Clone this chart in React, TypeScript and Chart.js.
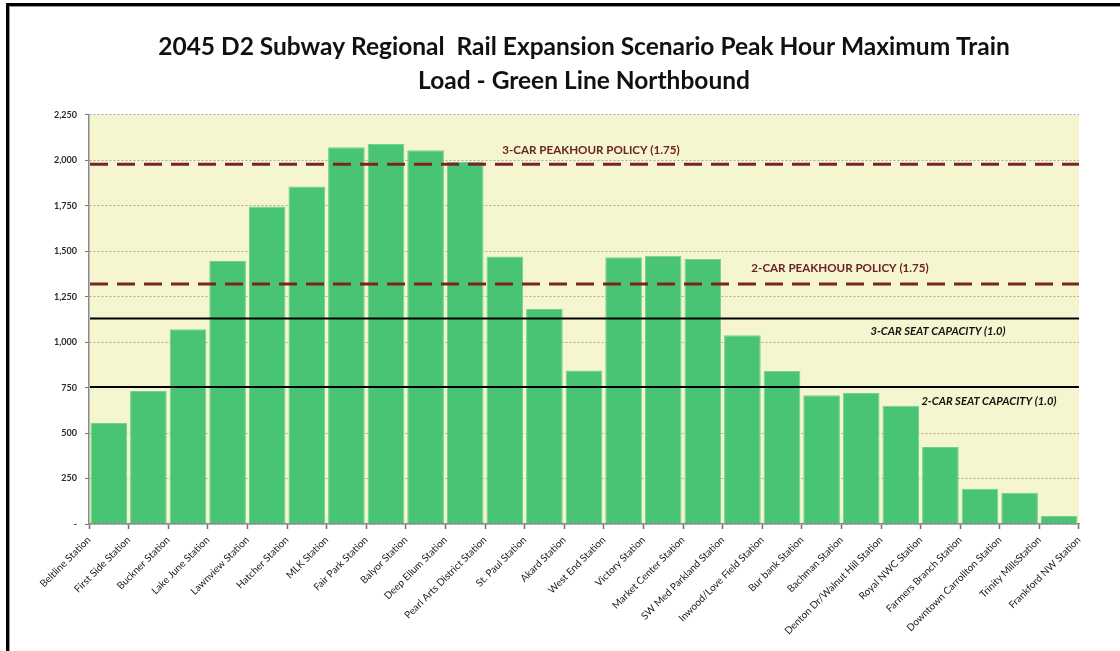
import React, { useEffect, useRef } from 'react';
import { Chart, registerables } from 'chart.js';

Chart.register(...registerables);

// ---------- data ----------
const TITLE_LINES = [
  '2045 D2 Subway Regional  Rail Expansion Scenario Peak Hour Maximum Train',
  'Load - Green Line Northbound',
];

const STATIONS = [
  'Beltline Station',
  'First Side Station',
  'Buckner Station',
  'Lake June Station',
  'Lawnview Station',
  'Hatcher Station',
  'MLK Station',
  'Fair Park Station',
  'Balyor Station',
  'Deep Ellum Station',
  'Pearl Arts District Station',
  'St. Paul Station',
  'Akard Station',
  'West End Station',
  'Victory Station',
  'Market Center Station',
  'SW Med Parkland Station',
  'Inwood/Love Field Station',
  'Bur bank Station',
  'Bachman Station',
  'Denton Dr/Walnut Hill Station',
  'Royal NWC Station',
  'Farmers Branch Station',
  'Downtown Carrollton Station',
  'Trinity MillsStation',
  'Frankford NW Station',
];

const LOADS = [
  556, 732, 1071, 1447, 1746, 1856, 2072, 2090, 2056, 1991, 1472, 1183, 845,
  1467, 1476, 1458, 1038, 842, 708, 721, 651, 424, 194, 172, 44,
];

const Y_MIN = 0;
const Y_MAX = 2250;
const Y_STEP = 250;

const REF_VALUES = [1979, 1319.5, 1131, 754];
const REF_LABELS = [
  '3-CAR PEAKHOUR POLICY (1.75)',
  '2-CAR PEAKHOUR POLICY (1.75)',
  '3-CAR SEAT CAPACITY (1.0)',
  '2-CAR SEAT CAPACITY (1.0)',
];

// ---------- styles ----------
const REF_STYLES = [
  { color: '#7a2424', width: 3, dash: [18, 9], textColor: '#6b2222', font: 'bold 11.6px Lato', frac: 0.507, dy: -14 },
  { color: '#7a2424', width: 3, dash: [18, 9], textColor: '#6b2222', font: 'bold 11.6px Lato', frac: 0.7586, dy: -16 },
  { color: '#000000', width: 2, dash: [], textColor: '#111111', font: 'italic bold 11.2px Lato', frac: 0.8576, dy: 13 },
  { color: '#000000', width: 2, dash: [], textColor: '#111111', font: 'italic bold 11.2px Lato', frac: 0.909, dy: 14 },
];

const W = 1120;
const H = 651;
const PLOT_LEFT = 89;
const PLOT_RIGHT = 1079;
const PLOT_BOTTOM = 524;

const plotBg = {
  id: 'plotBg',
  beforeDraw(chart: any) {
    const { ctx, chartArea } = chart;
    ctx.save();
    ctx.fillStyle = '#f5f5d0';
    ctx.fillRect(chartArea.left, chartArea.top, chartArea.width, chartArea.height);
    ctx.restore();
  },
};

const refLines = {
  id: 'refLines',
  afterDatasetsDraw(chart: any) {
    const { ctx, chartArea } = chart;
    const y = chart.scales.y;
    REF_VALUES.forEach((v, i) => {
      const st = REF_STYLES[i];
      const py = y.getPixelForValue(v);
      ctx.save();
      ctx.strokeStyle = st.color;
      ctx.lineWidth = st.width;
      ctx.setLineDash(st.dash);
      ctx.beginPath();
      ctx.moveTo(chartArea.left + 1, py);
      ctx.lineTo(chartArea.right, py);
      ctx.stroke();
      ctx.setLineDash([]);
      ctx.font = st.font;
      ctx.fillStyle = st.textColor;
      ctx.textAlign = 'center';
      ctx.textBaseline = 'middle';
      ctx.fillText(REF_LABELS[i], chartArea.left + st.frac * chartArea.width, py + st.dy);
      ctx.restore();
    });
  },
};

export default function App() {
  const canvasRef = useRef<HTMLCanvasElement | null>(null);

  useEffect(() => {
    const canvas = canvasRef.current;
    if (!canvas) return;
    const chart = new Chart(canvas, {
      type: 'bar',
      data: {
        labels: STATIONS.slice(0, LOADS.length),
        datasets: [
          {
            label: 'Peak Hour Maximum Train Load',
            data: LOADS,
            backgroundColor: '#49c474',
            borderColor: '#72d290',
            borderWidth: 1,
            categoryPercentage: 1,
            barPercentage: 0.925,
            xAxisID: 'x',
          },
        ],
      },
      plugins: [plotBg, refLines],
      options: {
        responsive: false,
        animation: false,
        devicePixelRatio: 1,
        layout: { padding: { left: 0, right: W - PLOT_RIGHT, top: 0, bottom: 0 } },
        plugins: {
          legend: { display: false },
          tooltip: { enabled: false },
          title: {
            display: true,
            fullSize: false,
            text: TITLE_LINES,
            color: '#111111',
            font: { family: 'Lato', size: 24.5, weight: 'bold', lineHeight: 1.35 },
            padding: { top: 31, bottom: 17.8 },
          },
        },
        scales: {
          x: {
            type: 'category',
            position: 'bottom',
            offset: true,
            grid: {
              display: true,
              offset: true,
              drawOnChartArea: false,
              drawTicks: true,
              tickLength: 5,
              tickColor: '#6f6f6f',
              tickWidth: 1.5,
            },
            border: { display: true, color: '#8a8a8a', width: 1.5 },
            ticks: { display: false },
            afterFit: (s: any) => {
              s.height = 5;
            },
          },
          x2: {
            type: 'category',
            position: 'bottom',
            labels: STATIONS,
            offset: false,
            grid: { display: false, drawTicks: false },
            border: { display: false },
            ticks: {
              autoSkip: false,
              maxRotation: 45,
              minRotation: 45,
              padding: 5,
              color: '#1a1a1a',
              font: { family: 'Lato', size: 10 },
            },
            afterFit: (s: any) => {
              s.height = H - PLOT_BOTTOM - 5;
            },
          },
          y: {
            type: 'linear',
            min: Y_MIN,
            max: Y_MAX,
            ticks: {
              stepSize: Y_STEP,
              padding: 8,
              color: '#2a2a2a',
              font: { family: 'Lato', size: 9, weight: 'bold' },
              callback: (v: any) => (Number(v) === 0 ? '-' : Number(v).toLocaleString('en-US')),
            },
            grid: {
              color: '#a8a8a8',
              lineWidth: 1,
              drawTicks: true,
              tickLength: 4,
              tickColor: '#7a7a7a',
              tickBorderDash: [],
            },
            border: { display: true, color: '#8a8a8a', width: 1.5, dash: [2, 2] },
            afterFit: (s: any) => {
              s.width = PLOT_LEFT;
            },
          },
        },
      },
    });
    return () => chart.destroy();
  }, []);

  return (
    <div
      style={{
        position: 'fixed',
        left: 0,
        top: 0,
        width: W,
        height: H,
        overflow: 'hidden',
        background: '#ffffff',
      }}
    >
      <div
        style={{
          position: 'absolute',
          left: 6,
          top: 3,
          width: 2000,
          height: 2000,
          borderLeft: '3px solid #000',
          borderTop: '3px solid #000',
          boxShadow: 'inset 1px 1px 0 #9a9a9a',
        }}
      />
      <canvas
        ref={canvasRef}
        width={W}
        height={H}
        style={{ position: 'absolute', left: 0, top: 0, width: W, height: H }}
      />
    </div>
  );
}
